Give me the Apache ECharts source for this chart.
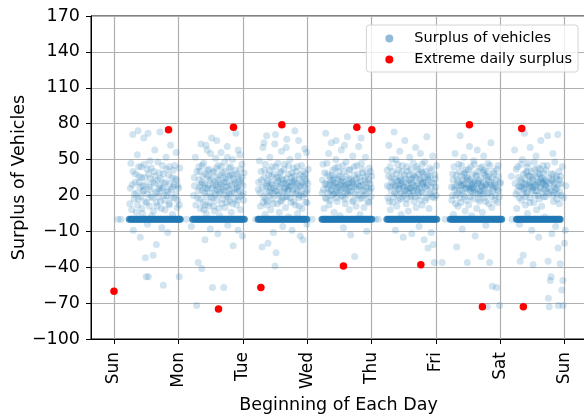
<!DOCTYPE html>
<html>
<head>
<meta charset="utf-8">
<script src="https://cdn.jsdelivr.net/npm/echarts@6/dist/echarts.min.js"></script>
<style>
  html, body { margin: 0; padding: 0; background: #fff; }
  #chart { width: 584px; height: 418px; }
</style>
</head>
<body>
<div id="chart"></div>
<script>
// Weekday tick labels, one tick at the start of each day (x measured in days).
const dayNames = ['Sun', 'Mon', 'Tue', 'Wed', 'Thu', 'Fri', 'Sat', 'Sun'];
const dayTicks = [0, 1, 2, 3, 4, 5, 6, 7];
const surplusTicks = [-100, -70, -40, -10, 20, 50, 80, 110, 140, 170];

// Non-zero surplus readings per day: [hour of day, surplus]
const sunReadings = [
  [1.5,0],[2.6,0],[5.9,13],[6.3,47],[6.8,29],[7.2,-9],[7.6,21],[8.0,38],[8.3,6],[8.7,54],
  [9.0,74],[9.4,31],[9.8,-15],[10.1,44],[10.4,9],[10.8,24],[11.1,68],[11.5,35],[11.7,-32],[12.0,-48],
  [12.2,14],[12.5,-4],[12.7,72],[12.8,-48],[13.1,27],[13.4,49],[13.8,19],[14.1,3],[14.6,-30],[14.9,40],
  [15.2,58],[15.5,23],[15.8,-21],[16.1,11],[16.4,33],[16.8,26],[17.1,73],[17.4,15],[17.8,-7],[18.1,45],
  [18.4,-55],[18.7,30],[19.0,8],[19.4,52],[19.7,20],[20.0,-11],[20.4,37],[20.7,13],[21.1,62],[21.4,25],
  [21.8,4],[22.1,41],[22.5,18],[22.8,34],[23.2,56],[23.5,10],[23.8,28],[24.3,-48],[24.5,43],[9.3,36],
  [12.3,42],[14.5,31],[16.9,39],[18.6,20],[20.6,44],[10.7,28],[13.6,34],[17.7,24],[22.4,29],[7.0,71],
  [19.9,25],[9.1,17],
  [6.1,26],[6.6,8],[7.1,40],[7.5,17],[7.9,31],[8.4,22],[8.8,12],[9.2,44],[9.6,27],[10.0,19],
  [10.3,35],[10.6,5],[11.0,24],[11.3,46],[11.6,15],[11.9,29],[12.4,21],[12.9,38],[13.2,11],[13.5,25],
  [13.9,43],[14.3,18],[14.7,7],[15.0,30],[15.3,36],[15.7,14],[16.0,22],[16.3,48],[16.6,19],[17.0,28],
  [17.3,34],[17.6,9],[18.0,26],[18.3,38],[18.9,16],[19.2,31],[19.6,42],[20.2,23],[20.5,12],[20.9,30],
  [21.3,18],[21.6,35],[22.0,27],[22.6,45],[23.0,21],[23.4,33],[23.7,16],[24.1,26],[24.4,12]
];
const monReadings = [
  [3.0,0],[4.8,-6],[5.9,35],[6.3,52],[6.8,-72],[7.1,18],[7.4,-36],[7.6,44],[7.9,27],[8.2,9],
  [8.4,63],[8.7,-41],[8.9,31],[9.2,14],[9.4,47],[9.7,22],[9.9,-17],[10.2,38],[10.4,5],[10.7,58],
  [10.9,26],[11.2,11],[11.4,42],[11.7,33],[11.9,-8],[12.2,19],[12.4,68],[12.7,-57],[12.9,29],[13.2,40],
  [13.4,7],[13.7,24],[13.9,51],[14.2,16],[14.4,35],[14.7,-12],[14.9,45],[15.2,21],[15.4,3],[15.7,30],
  [15.9,56],[16.2,13],[16.4,39],[16.7,25],[16.9,-57],[17.2,48],[17.4,10],[17.7,34],[17.9,20],[18.2,61],
  [18.4,-5],[18.7,28],[18.9,43],[19.2,15],[19.4,37],[19.7,6],[19.9,23],[20.2,50],[20.4,-22],[20.7,32],
  [20.9,17],[21.2,41],[21.4,72],[21.7,12],[21.9,27],[22.2,-9],[22.4,36],[22.7,19],[22.9,54],[23.2,8],
  [23.4,30],[23.7,46],[23.9,-14],[24.2,22],[24.5,39],[9.0,24],[11.0,36],[13.0,18],[15.0,27],[17.0,31],
  [19.0,21],[12.0,55],[16.0,44],[20.0,38],[10.0,12],[18.0,14],[14.0,29],[22.0,25],[8.0,40],[23.0,33],
  [5.6,20],[6.0,28],[6.5,12],[6.9,40],[7.3,24],[7.7,33],[8.1,17],[8.5,29],[8.8,45],[9.1,36],
  [9.5,8],[9.8,30],[10.1,26],[10.5,19],[10.8,41],[11.1,28],[11.5,22],[11.8,14],[12.1,34],[12.5,26],
  [12.8,39],[13.1,11],[13.5,31],[13.8,21],[14.1,43],[14.5,25],[14.8,33],[15.1,9],[15.5,37],[15.8,23],
  [16.1,29],[16.5,17],[16.8,35],[17.1,24],[17.5,40],[17.8,27],[18.1,31],[18.5,19],[18.8,36],[19.1,25],
  [19.5,44],[19.8,29],[20.1,13],[20.5,34],[20.8,22],[21.1,30],[21.5,26],[21.8,38],[22.1,16],[22.5,31],
  [22.8,24],[23.1,42],[23.5,20],[23.8,35],[24.1,28],[24.4,16],[10.3,62],[14.3,66],[18.3,52],[22.3,58]
];
const tueReadings = [
  [4.8,0],[5.8,25],[6.2,49],[6.6,11],[7.0,33],[7.2,-23],[7.5,60],[7.8,19],[8.1,41],[8.3,4],
  [8.6,28],[8.9,70],[9.1,15],[9.4,-20],[9.6,37],[9.9,23],[10.1,52],[10.4,8],[10.6,31],[10.9,44],
  [11.1,17],[11.4,-11],[11.6,26],[11.9,63],[12.0,-39],[12.4,-28],[12.6,35],[12.9,13],[13.1,47],[13.4,21],
  [13.6,6],[13.9,39],[14.1,29],[14.4,57],[14.6,16],[14.9,-6],[15.1,33],[15.4,24],[15.6,46],[15.9,10],
  [16.1,30],[16.4,67],[16.6,19],[16.9,38],[17.1,2],[17.4,27],[17.6,50],[17.9,14],[18.1,35],[18.4,-9],
  [18.6,22],[18.9,43],[19.1,31],[19.4,74],[19.6,12],[19.9,26],[20.1,40],[20.4,5],[20.6,53],[20.9,18],
  [21.1,34],[21.4,-14],[21.6,28],[21.9,45],[22.1,9],[22.4,-17],[22.6,36],[22.9,21],[23.1,59],[23.4,14],
  [23.6,32],[23.9,-4],[24.1,25],[24.4,42],[9.0,30],[11.0,22],[13.0,32],[15.0,18],[17.0,25],[19.0,36],
  [21.0,20],[10.5,26],[12.5,24],[14.5,34],[16.5,28],[18.5,31],[20.5,24],[22.5,29],[8.5,17],[23.5,38],
  [5.9,31],[6.4,22],[6.8,40],[7.3,27],[7.6,14],[8.0,35],[8.4,46],[8.7,23],[9.0,12],[9.3,32],
  [9.7,27],[10.0,41],[10.3,20],[10.7,36],[11.0,29],[11.3,13],[11.7,38],[12.1,24],[12.3,44],[12.7,30],
  [13.0,20],[13.3,35],[13.7,27],[14.0,15],[14.3,40],[14.7,23],[15.0,30],[15.3,42],[15.7,26],[16.0,19],
  [16.3,34],[16.7,24],[17.0,45],[17.3,31],[17.7,18],[18.0,28],[18.3,39],[18.7,25],[19.0,15],[19.3,33],
  [19.7,21],[20.0,30],[20.3,44],[20.7,28],[21.0,11],[21.3,37],[21.7,23],[22.0,31],[22.3,19],[22.7,40],
  [23.0,27],[23.3,34],[23.7,22],[24.0,14],[24.3,30],[7.9,64],[12.2,71],[16.2,60],[20.8,66],[23.8,56]
];
const wedReadings = [
  [1.8,0],[5.6,22],[5.9,46],[6.3,9],[6.6,30],[6.9,72],[7.2,17],[7.5,38],[7.7,26],[8.0,55],[8.2,12],
  [8.5,33],[8.7,24],[9.0,64],[9.2,20],[9.5,41],[9.7,28],[10.0,6],[10.2,35],[10.5,22],[10.7,50],
  [11.0,30],[11.2,15],[11.5,44],[11.7,27],[12.0,36],[12.2,3],[12.5,25],[12.7,58],[13.0,32],[13.2,19],
  [13.5,-7],[13.7,40],[14.0,26],[14.2,13],[14.5,48],[14.7,29],[15.0,69],[15.2,21],[15.5,34],[15.7,8],
  [16.0,42],[16.2,-13],[16.5,23],[16.7,31],[17.0,53],[17.2,16],[17.5,37],[17.7,-31],[18.0,27],[18.2,11],
  [18.5,45],[18.7,30],[19.0,20],[19.2,61],[19.5,35],[19.7,4],[20.0,28],[20.2,47],[20.5,18],[20.7,39],
  [21.0,24],[21.2,10],[21.5,33],[21.7,52],[22.0,21],[22.2,-10],[22.5,38],[22.7,26],[23.0,14],[23.2,43],
  [23.5,30],[23.7,19],[24.0,36],[8.1,29],[9.6,33],[11.1,24],[12.6,31],[14.1,22],[15.6,27],[17.1,32],
  [5.7,33],[6.1,25],[6.5,39],[6.8,18],[7.1,29],[7.4,47],[7.8,22],[8.3,36],[8.6,16],[8.9,31],
  [9.1,25],[9.4,37],[9.8,21],[10.1,30],[10.4,43],[10.6,27],[10.9,18],[11.3,34],[11.6,22],[11.9,40],
  [12.3,29],[12.6,20],[12.9,35],[13.1,26],[13.4,45],[13.8,31],[14.1,17],[14.4,28],[14.6,36],[14.9,23],
  [15.3,30],[15.6,41],[15.9,24],[16.3,33],[16.6,27],[16.9,15],[17.3,29],[17.6,44],[17.9,21],[18.3,34],
  [18.6,25],[18.9,38],[19.3,28],[19.6,17],[19.9,32],[20.3,24],[20.6,42],[20.9,29],[21.3,20],[21.6,36],
  [21.9,27],[22.3,31],[22.6,15],[22.9,33],[23.3,24],[23.6,40],[23.9,26],[10.8,66],[13.9,62],[20.1,68]
];
const thuReadings = [
  [1.4,0],[2.5,0],[5.8,41],[6.1,18],[6.4,62],[6.7,27],[7.0,8],[7.3,35],[7.6,50],[7.8,14],[8.1,29],[8.4,73],
  [8.6,22],[8.9,-9],[9.2,38],[9.4,11],[9.7,46],[10.0,25],[10.2,32],[10.5,57],[10.8,17],[11.0,4],
  [11.3,40],[11.6,28],[11.8,-15],[12.1,21],[12.4,66],[12.6,34],[12.9,13],[13.2,44],[13.4,26],[13.7,7],
  [14.0,37],[14.2,52],[14.5,19],[14.8,31],[15.0,-12],[15.3,24],[15.6,47],[15.8,15],[16.1,36],[16.4,60],
  [16.6,10],[16.9,28],[17.2,42],[17.4,20],[17.7,-6],[18.0,33],[18.2,55],[18.5,23],[18.8,12],[19.0,39],
  [19.3,30],[19.6,-17],[19.8,48],[20.1,16],[20.4,26],[20.6,69],[20.9,35],[21.0,-24],[21.4,9],[21.7,43],
  [22.0,22],[22.2,-11],[22.5,31],[22.8,53],[23.0,-21],[23.3,18],[23.4,-36],[23.6,37],[23.9,27],[24.2,45],
  [9.0,27],[11.0,33],[13.0,24],[15.0,34],[17.0,25],[19.0,31],[21.0,37],[10.6,29],[14.6,26],[18.6,40],
  [5.9,28],[6.3,36],[6.6,15],[6.9,44],[7.2,24],[7.5,31],[7.9,40],[8.2,19],[8.5,34],[8.8,28],
  [9.1,50],[9.3,21],[9.6,32],[9.9,16],[10.1,41],[10.4,26],[10.7,35],[10.9,22],[11.2,30],[11.5,45],
  [11.7,19],[12.0,27],[12.3,37],[12.5,24],[12.8,31],[13.1,17],[13.3,40],[13.6,29],[13.9,22],[14.1,33],
  [14.4,26],[14.7,42],[14.9,20],[15.2,30],[15.5,37],[15.7,24],[16.0,28],[16.3,19],[16.5,35],[16.8,44],
  [17.1,30],[17.3,23],[17.6,38],[17.9,26],[18.1,16],[18.4,34],[18.7,29],[18.9,46],[19.2,22],[19.5,35],
  [19.7,27],[20.0,40],[20.3,31],[20.5,18],[20.8,28],[21.2,33],[21.5,21],[21.8,36],[22.1,27],[22.4,41],
  [22.7,19],[23.1,30],[23.5,24],[23.8,34],[24.1,20]
];
const friReadings = [
  [3.4,0],[2.3,-36],[5.9,16],[6.2,38],[6.5,4],[6.8,27],[7.1,55],[7.4,20],[7.7,-23],[7.9,33],[8.2,11],[8.5,46],
  [8.8,24],[9.0,70],[9.3,14],[9.6,36],[9.8,-8],[10.1,29],[10.4,52],[10.6,19],[10.9,7],[11.2,41],
  [11.4,26],[11.7,-36],[12.0,34],[12.2,12],[12.5,61],[12.8,23],[13.0,44],[13.3,3],[13.6,30],[13.8,17],
  [14.1,49],[14.4,25],[14.6,-14],[14.9,37],[15.2,9],[15.4,58],[15.7,21],[16.0,32],[16.2,15],[16.5,43],
  [16.8,-31],[17.0,27],[17.3,6],[17.6,39],[17.8,53],[18.1,18],[18.4,29],[18.6,-5],[18.9,35],[19.2,22],
  [19.4,47],[19.7,13],[20.0,-36],[20.2,31],[20.5,64],[20.8,10],[21.0,-56],[21.3,26],[21.6,40],[19.1,-73],
  [22.1,20],[22.4,33],[22.6,-57],[22.9,14],[23.2,45],[23.4,24],[23.7,-72],[24.0,30],[9.5,28],[11.5,33],
  [13.5,26],[15.5,30],[17.5,24],[19.5,36],[21.5,28],[10.5,38],[14.0,32],[18.0,41],[12.6,27],[16.6,22],
  [5.8,27],[6.1,20],[6.4,33],[6.7,44],[7.0,25],[7.3,13],[7.6,37],[7.8,28],[8.1,22],[8.4,31],
  [8.7,40],[8.9,18],[9.2,29],[9.5,45],[9.7,24],[10.0,33],[10.3,21],[10.5,30],[10.8,39],[11.1,26],
  [11.3,16],[11.6,35],[11.9,28],[12.1,42],[12.4,25],[12.7,33],[12.9,19],[13.2,29],[13.5,38],[13.7,23],
  [14.0,27],[14.3,46],[14.5,31],[14.8,22],[15.1,36],[15.3,26],[15.6,40],[15.9,17],[16.1,30],[16.4,24],
  [16.7,34],[16.9,28],[17.2,44],[17.5,21],[17.7,31],[18.0,26],[18.3,37],[18.5,15],[18.8,29],[19.1,40],
  [19.3,27],[19.6,33],[19.9,22],[20.1,45],[20.4,29],[20.7,19],[20.9,35],[21.2,24],[21.5,38],[21.8,30],
  [22.0,16],[22.3,27],[22.7,42],[23.0,25],[23.3,36],[23.6,19],[23.9,31]
];
const satReadings = [
  [4.3,0],[4.1,36],[5.3,58],[5.8,21],[6.1,9],[6.5,44],[6.8,28],[7.1,-4],[7.4,-35],[7.6,33],
  [7.9,16],[8.2,50],[8.5,-30],[8.7,25],[9.0,72],[9.3,12],[9.5,39],[9.8,22],[10.1,5],[10.3,47],
  [10.6,30],[10.9,18],[11.1,60],[11.4,27],[11.7,-9],[11.9,35],[12.2,-38],[12.5,14],[12.7,42],[13.0,24],
  [13.3,53],[13.5,8],[13.8,31],[14.1,20],[14.3,-15],[14.6,38],[14.9,26],[15.1,66],[15.4,11],[15.7,34],
  [15.9,45],[16.2,19],[16.5,2],[16.7,29],[17.0,41],[17.3,23],[17.6,70],[17.8,-35],[17.9,-66],[18.2,-73],
  [18.6,-51],[18.9,-48],[19.2,-12],[19.5,32],[19.8,15],[20.1,27],[20.3,48],[20.6,-6],[20.9,36],[21.2,21],
  [21.5,-24],[21.8,40],[22.0,13],[22.3,-37],[22.6,30],[22.9,-59],[23.1,44],[23.3,-51],[23.4,-72],[23.6,18],
  [23.9,-20],[24.2,-9],[24.4,28],[9.0,30],[11.0,36],[13.0,29],[15.0,33],[17.0,28],[19.0,38],[21.0,26],
  [10.0,40],[12.0,26],[14.0,43],[16.0,31],[18.0,35],[20.0,22],[22.0,33],[8.0,27],[21.4,71],[19.6,55],
  [21.6,-72],
  [5.5,30],[5.9,42],[6.3,24],[6.7,35],[7.0,18],[7.3,27],[7.7,46],[8.0,31],[8.3,21],[8.6,38],
  [8.9,26],[9.2,34],[9.4,19],[9.7,29],[10.0,44],[10.2,23],[10.5,36],[10.8,28],[11.0,14],[11.3,31],
  [11.6,40],[11.8,24],[12.1,33],[12.4,27],[12.6,48],[12.9,20],[13.2,36],[13.4,29],[13.7,24],[14.0,38],
  [14.2,31],[14.5,17],[14.8,42],[15.0,27],[15.3,35],[15.6,22],[15.8,30],[16.1,39],[16.4,25],[16.6,33],
  [16.9,19],[17.2,31],[17.5,45],[17.7,26],[18.1,22],[18.4,30],[18.8,24],[19.1,33],[19.4,20],[19.7,38],
  [20.0,30],[20.4,25],[20.8,34],[21.1,17],[21.7,29],[22.1,23],[22.5,36],[22.8,20]
];

// Hours of the day at which the surplus was exactly zero
const sunZeroHours = [5.7,6.3,6.7,7.4,7.8,8.5,8.9,9.6,10.0,10.7,11.1,11.8,12.2,12.9,13.3,14.0,14.4,15.1,15.5,16.2,16.6,17.3,17.7,18.4,18.8,19.5,19.9,20.6,21.0,21.7,22.1,22.8,23.2,23.9,24.3,24.7];
const monZeroHours = [5.3,5.8,6.4,6.9,7.5,7.9,8.6,9.0,9.7,10.1,10.8,11.2,11.9,12.3,13.0,13.4,14.1,14.5,15.2,15.6,16.3,16.7,17.4,17.8,18.5,18.9,19.6,20.0,20.7,21.1,21.8,22.2,22.9,23.3,24.0,24.6];
const tueZeroHours = [5.7,6.1,6.8,7.2,7.9,8.3,9.0,9.4,10.1,10.5,11.2,11.6,12.3,12.7,13.4,13.8,14.5,14.9,15.6,16.0,16.7,17.1,17.8,18.2,18.9,19.3,20.0,20.4,21.1,21.5,22.2,22.6,23.3,23.9];
const wedZeroHours = [5.5,6.0,6.6,7.0,7.7,8.1,8.8,9.2,9.9,10.3,11.0,11.4,12.1,12.5,13.2,13.6,14.3,14.7,15.4,15.8,16.5,16.9,17.6,18.0,18.7,19.1,19.8,20.2,20.9,21.3,22.0,22.4,23.1,23.5,24.1];
const thuZeroHours = [5.7,6.2,6.8,7.2,7.9,8.3,9.0,9.4,10.1,10.5,11.2,11.6,12.3,12.7,13.4,13.8,14.5,14.9,15.6,16.0,16.7,17.1,17.8,18.2,18.9,19.3,20.0,20.4,21.1,21.5,22.2,22.6,23.3,23.7,24.3];
const friZeroHours = [5.3,5.8,6.4,6.9,7.5,7.9,8.6,9.0,9.7,10.1,10.8,11.2,11.9,12.3,13.0,13.4,14.1,14.5,15.2,15.6,16.3,16.7,17.4,17.8,18.5,18.9,19.6,20.0,20.7,21.1,21.8,22.2,22.9,23.3,24.0,24.5];
const satZeroHours = [6.0,6.4,7.1,7.5,8.2,8.6,9.3,9.7,10.4,10.8,11.5,11.9,12.6,13.0,13.7,14.1,14.8,15.2,15.9,16.3,17.0,17.4,18.1,18.5,19.2,19.6,20.3,20.7,21.4,21.9,22.3];

// Largest and smallest surplus of each day (x in days since Sunday)
const extremeDays = [0.000, 0.847, 1.623, 1.856, 2.281, 2.607, 3.563, 3.771, 4.004, 4.765, 5.519, 5.721, 6.332, 6.357];
const extremeValues = [-60, 75, -75, 77, -57, 79, -39, 77, 75, -38, 79, -73, 76, -73];

const dailyReadings = [sunReadings, monReadings, tueReadings, wedReadings, thuReadings, friReadings, satReadings];
const dailyZeroHours = [sunZeroHours, monZeroHours, tueZeroHours, wedZeroHours, thuZeroHours, friZeroHours, satZeroHours];

const cloudPoints = [];
dailyReadings.forEach((rows, d) => rows.forEach(([h, v]) => cloudPoints.push([d + h / 24, v])));
const zeroPoints = [];
dailyZeroHours.forEach((hours, d) => hours.forEach(h => zeroPoints.push([d + h / 24, 0])));
const extremePoints = extremeDays.map((x, i) => [x, extremeValues[i]]);

const FONT = 'DejaVu Sans';
const GRID_COLOR = '#b0b0b0';

const chart = echarts.init(document.getElementById('chart'), null, { renderer: 'canvas' });
chart.setOption({
  animation: false,
  backgroundColor: '#fff',
  grid: {
    left: 91, right: -2, top: 16, bottom: 79,
    outerBoundsMode: 'none',
    containLabel: false,
    show: true, borderColor: '#000', borderWidth: 1, backgroundColor: 'transparent'
  },
  legend: {
    orient: 'vertical',
    right: 6, top: 25,
    icon: 'circle',
    itemWidth: 8, itemHeight: 8, itemGap: 6,
    padding: [6, 6, 5, 19],
    borderColor: '#d4d4d4', borderWidth: 1, borderRadius: 3,
    backgroundColor: 'rgba(255,255,255,0.8)',
    textStyle: { fontFamily: FONT, fontSize: 14.5, color: '#000', padding: [0, 0, 0, 16] },
    data: [
      { name: 'Surplus of vehicles', itemStyle: { color: '#8fbad9', opacity: 1 } },
      { name: 'Extreme daily surplus', itemStyle: { color: '#ff0000', opacity: 1 } }
    ]
  },
  xAxis: {
    type: 'value',
    min: -0.357, max: 7.33,
    name: 'Beginning of Each Day',
    nameLocation: 'middle', nameGap: 57,
    nameMoveOverlap: false,
    nameTextStyle: { fontFamily: FONT, fontSize: 17.5, color: '#000' },
    axisLine: { show: true, onZero: false, lineStyle: { color: '#000', width: 1 } },
    axisTick: { show: true, length: 5, customValues: dayTicks, lineStyle: { color: '#000' } },
    axisLabel: {
      customValues: dayTicks, rotate: 90, margin: 13,
      fontFamily: FONT, fontSize: 17, color: '#000',
      formatter: v => dayNames[Math.round(v)]
    },
    splitLine: { show: true, lineStyle: { color: GRID_COLOR, width: 1.2 } }
  },
  yAxis: {
    type: 'value',
    min: -100, max: 170,
    name: 'Surplus of Vehicles',
    nameLocation: 'middle', nameGap: 63,
    nameMoveOverlap: false,
    nameTextStyle: { fontFamily: FONT, fontSize: 17.5, color: '#000' },
    axisLine: { show: true, onZero: false, lineStyle: { color: '#000', width: 1 } },
    axisTick: { show: true, length: 5, customValues: surplusTicks, lineStyle: { color: '#000' } },
    axisLabel: { customValues: surplusTicks, margin: 11, fontFamily: FONT, fontSize: 17.5, color: '#000',
      formatter: v => (v < 0 ? '\u2212' + Math.abs(v) : String(v)) },
    splitLine: { show: true, lineStyle: { color: GRID_COLOR, width: 1.2 } }
  },
  series: [
    {
      name: 'Surplus of vehicles', type: 'scatter', symbolSize: 7,
      itemStyle: { color: 'rgb(31,119,180)', opacity: 0.2 },
      data: cloudPoints, z: 2
    },
    {
      name: 'Surplus of vehicles', type: 'scatter', symbolSize: 7,
      itemStyle: { color: 'rgb(31,119,180)', opacity: 0.8 },
      data: zeroPoints, z: 2
    },
    {
      name: 'Extreme daily surplus', type: 'scatter', symbolSize: 7.5,
      itemStyle: { color: '#ff0000', opacity: 1 },
      data: extremePoints, z: 3
    }
  ]
});
</script>
</body>
</html>
